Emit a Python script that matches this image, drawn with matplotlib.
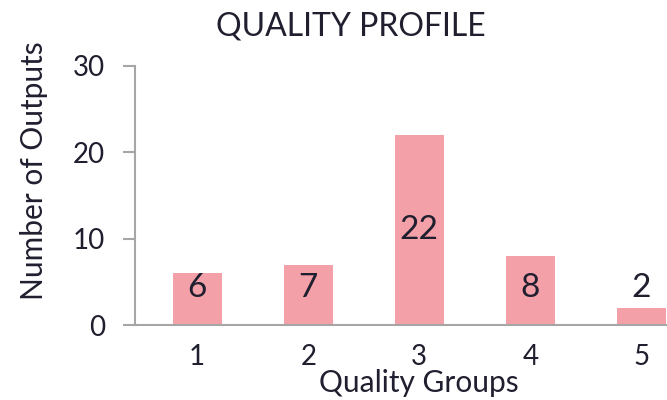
import matplotlib
matplotlib.use("Agg")
import matplotlib.pyplot as plt

groups = [1, 2, 3, 4, 5]
outputs = [6, 7, 22, 8, 2]

bar_color = "#f4a0a8"
text_color = "#1f1f2f"
axis_color = "#a6a6a6"

plt.rcParams["font.family"] = ["Lato", "DejaVu Sans"]

fig = plt.figure(figsize=(6.67, 4.0), dpi=100)
ax = fig.add_axes([0.2024, 0.1875, 0.7976, 0.6475])

ax.bar(groups, outputs, width=0.44, color=bar_color)

# labels sit mid-bar, but never lower than ~4.3 units
for g, v in zip(groups, outputs):
    ax.text(g, max(v / 2, 4.3), str(v), ha="center", va="center",
            fontsize=24, color=text_color)

ax.set_xlim(0.44, 5.23)
ax.set_ylim(0, 30)
ax.set_yticks([0, 10, 20, 30])
ax.set_xticks(groups)

for s in ["top", "right"]:
    ax.spines[s].set_visible(False)
for s in ["left", "bottom"]:
    ax.spines[s].set_color(axis_color)
    ax.spines[s].set_linewidth(1.5)

ax.tick_params(axis="y", length=8.6, width=1.5, color=axis_color, labelsize=20,
               labelcolor=text_color, pad=13)
ax.tick_params(axis="x", length=0, labelsize=20, labelcolor=text_color, pad=14)

ax.set_ylabel("Number of Outputs", fontsize=21.5, color=text_color)
ax.yaxis.set_label_coords(-0.163, 0.595)
ax.set_xlabel("Quality Groups", fontsize=21.5, color=text_color)
ax.xaxis.set_label_coords(0.534, -0.17)
ax.set_title("QUALITY PROFILE", fontsize=23, color=text_color, x=0.406, pad=22)

fig.savefig("out.png", dpi=100)
